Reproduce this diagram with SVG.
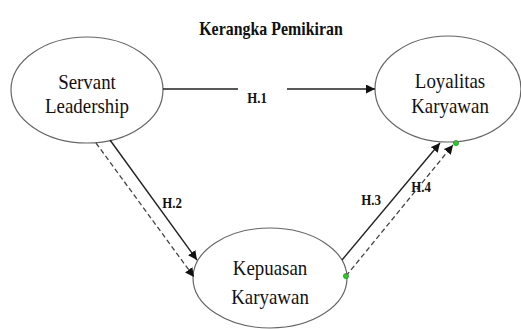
<svg xmlns="http://www.w3.org/2000/svg" width="521" height="329" viewBox="0 0 521 329">
<defs>
<style>
.node ellipse{fill:#fff;stroke:#666;stroke-width:1.2}
.solid{stroke:#222;stroke-width:1.4;fill:none}
.dash{stroke:#444;stroke-width:1.3;fill:none;stroke-dasharray:5,3}
.dot{fill:#1ed21e;stroke:#2a7a2a;stroke-width:0.6}
</style>
<marker id="ah" viewBox="0 0 10 10" refX="10" refY="5" markerWidth="9" markerHeight="9" markerUnits="userSpaceOnUse" orient="auto">
<path d="M0,0 L10,5 L0,10 Z" fill="#111"/>
</marker>
</defs>
<rect width="521" height="329" fill="#fff"/>
<text transform="translate(271,35) scale(0.86,1)" font-family="Liberation Serif, serif" font-size="18.5" font-weight="bold" fill="#111" text-anchor="middle">Kerangka Pemikiran</text>
<g id="servant-leadership" class="node" font-family="Liberation Serif, serif" font-size="22" fill="#111" text-anchor="middle">
<ellipse cx="87" cy="90" rx="76" ry="53"/>
<text transform="translate(87,89) scale(0.86,1)">Servant</text>
<text transform="translate(87,113) scale(0.86,1)">Leadership</text>
</g>
<g id="loyalitas-karyawan" class="node" font-family="Liberation Serif, serif" font-size="22" fill="#111" text-anchor="middle">
<ellipse cx="448" cy="89" rx="73" ry="53"/>
<text transform="translate(450,88) scale(0.86,1)">Loyalitas</text>
<text transform="translate(450,113) scale(0.86,1)">Karyawan</text>
</g>
<g id="kepuasan-karyawan" class="node" font-family="Liberation Serif, serif" font-size="22" fill="#111" text-anchor="middle">
<ellipse cx="270" cy="278" rx="77" ry="50"/>
<text transform="translate(270,275) scale(0.86,1)">Kepuasan</text>
<text transform="translate(270,304) scale(0.86,1)">Karyawan</text>
</g>
<g id="connectors">
<line class="solid" x1="163" y1="89" x2="238" y2="89"/>
<line class="solid" x1="287" y1="89" x2="375" y2="89" marker-end="url(#ah)"/>
<line class="solid" x1="110" y1="140" x2="197" y2="260" marker-end="url(#ah)"/>
<line class="dash" x1="96" y1="143" x2="194" y2="277" marker-end="url(#ah)"/>
<line class="solid" x1="342" y1="260" x2="440" y2="143" marker-end="url(#ah)"/>
<line class="dash" x1="346" y1="276" x2="453" y2="145" marker-end="url(#ah)"/>
<circle class="dot" cx="346" cy="276" r="2.6"/>
<circle class="dot" cx="456" cy="143" r="2.6"/>
<g font-family="Liberation Serif, serif" font-size="15" font-weight="bold" fill="#111" text-anchor="middle">
<text transform="translate(257,103) scale(0.86,1)">H.1</text>
<text transform="translate(172,208) scale(0.86,1)">H.2</text>
<text transform="translate(371,205) scale(0.86,1)">H.3</text>
<text transform="translate(421,192) scale(0.86,1)">H.4</text>
</g>
</g>
</svg>
